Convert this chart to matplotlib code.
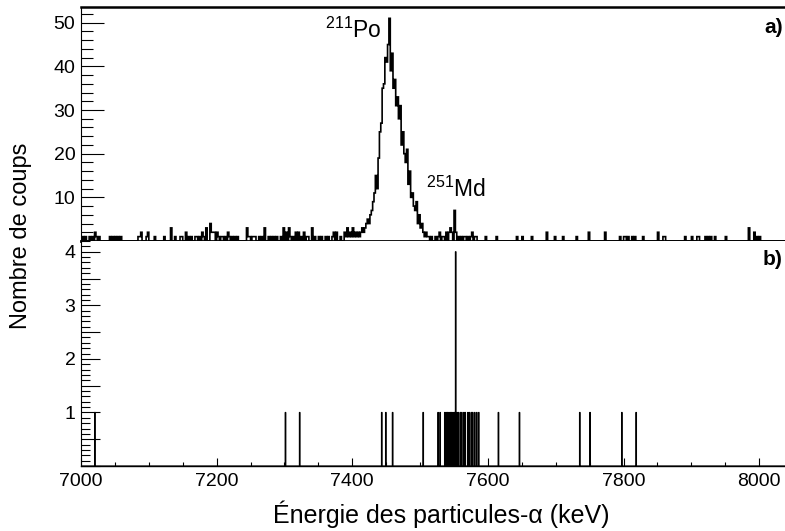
import numpy as np
import matplotlib
matplotlib.use('Agg')
import matplotlib.pyplot as plt
from matplotlib.ticker import FixedLocator, MultipleLocator, FuncFormatter

plt.rcParams['font.family'] = ['Liberation Sans', 'DejaVu Sans']
plt.rcParams['mathtext.fontset'] = 'custom'
plt.rcParams['mathtext.rm'] = 'Liberation Sans'
plt.rcParams['mathtext.it'] = 'Liberation Sans:italic'
plt.rcParams['mathtext.bf'] = 'Liberation Sans:bold'

# panel a) : 2 keV bins, background (energy, counts) outside the Po peak
noise_e = [7002, 7006, 7013, 7016, 7020, 7023, 7026, 7042, 7047, 7051, 7055, 7059,
           7084, 7087, 7089, 7096, 7099, 7109, 7122, 7133, 7138, 7147, 7149, 7154,
           7158, 7163, 7168, 7170, 7174, 7178, 7181, 7185, 7190, 7192, 7195, 7197,
           7200, 7202, 7206, 7209, 7212, 7216, 7219, 7222, 7227, 7231, 7244, 7246,
           7249, 7252, 7254, 7257, 7262, 7267, 7271, 7276, 7281, 7285, 7289, 7294,
           7298, 7302, 7306, 7309, 7313, 7317, 7321, 7324, 7328, 7332, 7335, 7340,
           7345, 7350, 7355, 7360, 7365, 7370, 7373, 7377, 7382,
           7512, 7517, 7522, 7526, 7528, 7532, 7535, 7538, 7542, 7544, 7547, 7551,
           7553, 7557, 7560, 7564, 7566, 7571, 7574, 7576, 7580, 7583, 7596, 7613,
           7643, 7650, 7665, 7687, 7699, 7711, 7731, 7748, 7772, 7795, 7800, 7802,
           7807, 7812, 7816, 7829, 7850, 7859, 7861, 7890, 7901, 7908, 7910, 7920,
           7925, 7929, 7934, 7951, 7984, 7993, 7996, 8001]
noise_n = [1, 1, 1, 1, 2, 1, 1, 1, 1, 1, 1, 1,
           1, 1, 2, 1, 2, 1, 1, 3, 1, 1, 1, 2,
           1, 1, 1, 1, 1, 2, 1, 3, 4, 2, 2, 2,
           2, 1, 1, 1, 1, 2, 1, 1, 1, 1, 3, 1,
           1, 1, 1, 1, 1, 1, 3, 1, 1, 1, 1, 1,
           3, 2, 3, 1, 1, 2, 2, 1, 2, 1, 1, 3,
           1, 1, 1, 1, 1, 1, 2, 2, 1,
           1, 1, 1, 1, 2, 1, 1, 2, 2, 3, 2, 7,
           2, 1, 1, 1, 1, 1, 1, 2, 1, 1, 1, 1,
           1, 1, 1, 2, 1, 1, 1, 2, 2, 1, 1, 1,
           1, 1, 1, 1, 2, 1, 1, 1, 1, 1, 1, 1,
           1, 1, 1, 1, 3, 2, 1, 1]

# 211Po peak, consecutive 2 keV bins starting at 7388 keV
peak_start = 7388
peak_n = [2, 1, 3, 1, 2, 1, 3, 1, 2, 1, 2, 1, 2, 3, 2, 3, 4, 5, 4, 6,
          7, 9, 11, 15, 12, 19, 25, 27, 35, 36, 42, 41, 45, 51, 39, 43, 35, 37, 31, 33,
          28, 31, 22, 25, 20, 18, 21, 13, 16, 10, 11, 8, 7, 9, 4, 6, 3, 4, 2, 1,
          2, 1]

# panel b) : individual events (1 keV bins)
events_b = [7020, 7301, 7322, 7443, 7449, 7459, 7504, 7526, 7529, 7536, 7538, 7540,
            7542, 7544, 7546, 7548, 7550, 7552, 7552, 7552, 7552, 7554, 7556, 7559,
            7561, 7564, 7566, 7570, 7572, 7575, 7577, 7580, 7583, 7586, 7615, 7646,
            7735, 7750, 7797, 7818]

edges_a = np.arange(7000, 8042, 2)
counts_a = np.histogram(noise_e, edges_a, weights=noise_n)[0]
peak_e = peak_start + 2 * np.arange(len(peak_n)) + 1
counts_a = counts_a + np.histogram(peak_e, edges_a, weights=peak_n)[0]

edges_b = np.arange(7000, 8041, 1)
counts_b = np.histogram(events_b, edges_b)[0]

fig = plt.figure(figsize=(7.85, 5.31), dpi=100)
L, R = 81 / 785, 1.0
ax1 = fig.add_axes([L, 1 - 241 / 531, R - L, 234 / 531])
ax2 = fig.add_axes([L, 1 - 466 / 531, R - L, 225 / 531], sharex=ax1)

ax1.stairs(counts_a, edges_a, color='k', lw=1.2)
ax2.stairs(counts_b, edges_b, color='k', lw=0.8)

ax1.set_xlim(7000, 8038)
ax1.set_ylim(0, 53.6)
ax2.set_ylim(0, 4.2)

# ticks
ax1.yaxis.set_major_locator(FixedLocator([10, 20, 30, 40, 50]))
ax1.yaxis.set_minor_locator(MultipleLocator(2))
ax1.tick_params(axis='y', which='major', direction='in', length=16.5, width=0.8, labelsize=14, pad=4)
ax1.tick_params(axis='y', which='minor', direction='in', length=8.5, width=0.8)
ax1.tick_params(axis='x', which='both', bottom=False, labelbottom=False)

ax2.yaxis.set_major_locator(MultipleLocator(0.5))
ax2.yaxis.set_minor_locator(MultipleLocator(0.1))
ax2.yaxis.set_major_formatter(FuncFormatter(lambda v, p: '%d' % v if v > 0 and abs(v - round(v)) < 1e-6 else ''))
ax2.tick_params(axis='y', which='major', direction='in', length=14, width=0.8, labelsize=14, pad=4)
ax2.tick_params(axis='y', which='minor', direction='in', length=6.5, width=0.8)
ax2.xaxis.set_major_locator(MultipleLocator(200))
ax2.xaxis.set_minor_locator(MultipleLocator(50))
ax2.tick_params(axis='x', which='major', direction='in', length=6, width=0.8, labelsize=14, pad=5)
ax2.tick_params(axis='x', which='minor', direction='in', length=3, width=0.8)

for s in ['right']:
    ax1.spines[s].set_visible(False)
    ax2.spines[s].set_visible(False)
ax2.spines['top'].set_visible(False)
ax1.spines['top'].set_linewidth(1.8)
ax1.spines['bottom'].set_linewidth(2.0)
ax1.spines['left'].set_linewidth(0.8)
ax2.spines['left'].set_linewidth(0.8)
ax2.spines['bottom'].set_linewidth(1.0)

# annotations
ax1.text(7443.5, 46.5, r'$^{211}$Po', fontsize=16.5, ha='right', va='baseline')
ax1.text(7509, 10.1, r'$^{251}$Md', fontsize=16.5, ha='left', va='baseline')
ax1.text(0.997, 0.887, 'a)', transform=ax1.transAxes, fontsize=15, fontweight='bold',
         ha='right', va='baseline')
ax2.text(0.997, 0.893, 'b)', transform=ax2.transAxes, fontsize=15, fontweight='bold',
         ha='right', va='baseline')

fig.text(0.027, 1 - 236 / 531, 'Nombre de coups', rotation=90, fontsize=17, ha='center', va='center')
fig.text(441 / 785, 1 - 514 / 531, 'Énergie des particules-α (keV)', fontsize=18, ha='center', va='center')

fig.savefig('out.png', dpi=100)
